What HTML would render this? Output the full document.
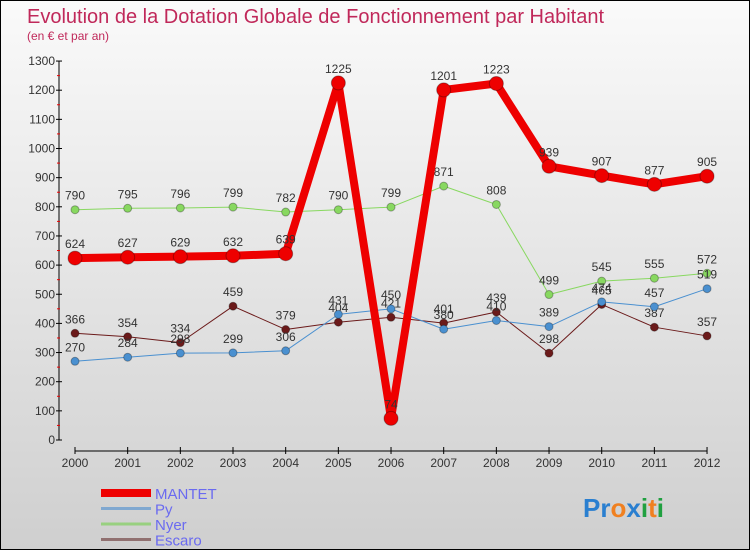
<!DOCTYPE html>
<html><head><meta charset="utf-8"><style>
body{margin:0;width:750px;height:550px;overflow:hidden;font-family:"Liberation Sans",sans-serif}
#wrap{position:relative;width:748px;height:548px;border:1px solid #000;background:linear-gradient(#fafafa,#cfcfcf)}
</style></head><body>
<div id="wrap">
<svg id="chart" width="748" height="548" xmlns="http://www.w3.org/2000/svg">
<text x="26" y="22" font-size="20" fill="#c0285a">Evolution de la Dotation Globale de Fonctionnement par Habitant</text>
<text x="26" y="39" font-size="12" fill="#c0285a">(en € et par an)</text>
<g id="axes"></g>
<g id="series"></g>
<g id="legend"></g>
<text x="582" y="516" font-size="26" font-weight="bold"><tspan fill="#2a7fd0">Pr</tspan><tspan fill="#f08020">o</tspan><tspan fill="#2a7fd0">x</tspan><tspan fill="#20a040">i</tspan><tspan fill="#f08020">t</tspan><tspan fill="#20a040">i</tspan></text>
</svg></div>
<script>
const years=["2000","2001","2002","2003","2004","2005","2006","2007","2008","2009","2010","2011","2012"];
const yTicks=[0,100,200,300,400,500,600,700,800,900,1000,1100,1200,1300];
const mantet=[624,627,629,632,639,1225,74,1201,1223,939,907,877,905];
const py=[270,284,298,299,306,431,450,380,410,389,474,457,519];
const nyer=[790,795,796,799,782,790,799,871,808,499,545,555,572];
const escaro=[366,354,334,459,379,404,421,401,439,298,465,387,357];
const NS="http://www.w3.org/2000/svg";
function x(i){return 74+i*52.67;}
function y(v){return 439-v*0.2915;}
function mk(tag,attrs,parent,txt){const e=document.createElementNS(NS,tag);for(const k in attrs)e.setAttribute(k,attrs[k]);if(txt!==undefined)e.textContent=txt;parent.appendChild(e);return e;}
const ax=document.getElementById('axes');
let a=mk('line',{x1:58,y1:y(0),x2:58,y2:y(1300),stroke:'#000'},ax);


yTicks.forEach(t=>{
 mk('line',{x1:55,y1:y(t),x2:61,y2:y(t),stroke:'#000'},ax);
 if(t<1300)mk('line',{x1:56,y1:y(t+50),x2:59,y2:y(t+50),stroke:'#e00'},ax);
 const l=mk('text',{x:54,y:y(t)+4,'font-size':12,'text-anchor':'end',fill:'#333'},ax,String(t));
 
 
});
a=mk('line',{x1:x(0),y1:450,x2:x(12),y2:450,stroke:'#000'},ax);


years.forEach((yr,i)=>{
 mk('line',{x1:x(i),y1:446,x2:x(i),y2:453,stroke:'#000'},ax);
 const l=mk('text',{x:x(i),y:466,'font-size':12,'text-anchor':'middle',fill:'#333'},ax,yr);
 
 
});
const sg=document.getElementById('series');
const defs=[["escaro",escaro,"#6b1a1a",1,4],["nyer",nyer,"#88d860",1,4],["py",py,"#4a90d0",1,4],["mantet",mantet,"#ee0000",8,7]];
defs.forEach(([n,d,c,w,r])=>{
 const p=mk('polyline',{points:d.map((v,i)=>x(i)+','+y(v)).join(' '),fill:'none',stroke:c,'stroke-width':w,'stroke-linejoin':'round'},sg);
 
 
 d.forEach((v,i)=>{
  const pt=mk('circle',{cx:x(i),cy:y(v),r:r,fill:c,stroke:'rgba(0,0,0,0.3)','stroke-width':1},sg);
  
  
  const l=mk('text',{x:x(i),y:y(v)-10,'font-size':12,'text-anchor':'middle',fill:'#333'},sg,String(v));
  
  
 });
});
const lg=document.getElementById('legend');
[["MANTET","#ee0000",8],["Py","#80a8d0",3],["Nyer","#98d080",3],["Escaro","#907070",3]].forEach(([n,c,w],i)=>{
 const yy=492+i*15.5;
 const ln=mk('line',{x1:100,y1:yy,x2:150,y2:yy,stroke:c,'stroke-width':w},lg);
 
 
 const t=mk('text',{x:154,y:yy+6,'font-size':15,fill:'#6a6af0'},lg,n);
 
 
});
</script>
</body></html>
